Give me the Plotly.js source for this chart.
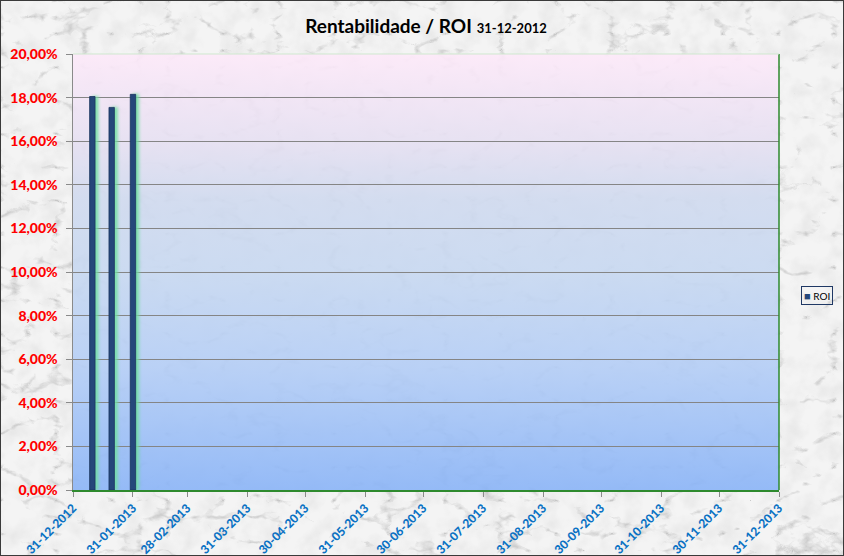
<!DOCTYPE html>
<html>
<head>
<meta charset="utf-8">
<script src="https://cdn.plot.ly/plotly-3.0.1.min.js"></script>
<style>
  html, body { margin:0; padding:0; width:844px; height:556px; overflow:hidden; }
  #wrap {
    position:relative; width:844px; height:556px; box-sizing:border-box;
    border:1px solid #3a3a3a;
    background-color:#f2f2f2;
    background-image:url("data:image/svg+xml;utf8,<svg xmlns='http://www.w3.org/2000/svg' width='844' height='556'><filter id='t'><feTurbulence type='turbulence' baseFrequency='0.018 0.03' numOctaves='4' seed='7'/><feColorMatrix type='matrix' values='0 0 0 0 0.42  0 0 0 0 0.42  0 0 0 0 0.42  -5 0 0 0 0.85'/></filter><filter id='s'><feTurbulence type='fractalNoise' baseFrequency='0.05' numOctaves='3' seed='2'/><feColorMatrix type='matrix' values='0 0 0 0 0.6  0 0 0 0 0.6  0 0 0 0 0.6  -1.5 0 0 0 0.9'/></filter><rect width='100%' height='100%' fill='%23f4f4f4'/><rect width='100%' height='100%' filter='url(%23s)' opacity='0.4'/><rect width='100%' height='100%' filter='url(%23t)' opacity='0.7'/></svg>");
  }
  #grad {
    position:absolute; left:72px; top:53px; width:706px; height:436px;
    background:linear-gradient(to bottom, #fde9f9 0%, #e6e0f2 20%, #d0daef 33%, #c7d8f1 50%, #b3cdf6 72%, #8ab4f7 100%);
    opacity:0.9;
  }
  #chart { position:absolute; left:0; top:0; width:844px; height:556px; }
  .barlayer path { filter: drop-shadow(3px 0px 1.5px rgba(110,225,160,0.85)); }
</style>
</head>
<body>
<div id="wrap">
  <div id="grad"></div>
  <div id="chart"></div>
</div>
<script>
// Data
const dates = ['2013-01-10', '2013-01-20', '2013-01-31'];
const roi = [0.1805, 0.1755, 0.1815];
const tickDates = ['2012-12-31','2013-01-31','2013-02-28','2013-03-31','2013-04-30','2013-05-31','2013-06-30','2013-07-31','2013-08-31','2013-09-30','2013-10-31','2013-11-30','2013-12-31'];
const tickLabels = ['31-12-2012','31-01-2013','28-02-2013','31-03-2013','30-04-2013','31-05-2013','30-06-2013','31-07-2013','31-08-2013','30-09-2013','31-10-2013','30-11-2013','31-12-2013'];
const seriesName = 'ROI';
const titleMain = 'Rentabilidade / ROI';
const titleDate = '31-12-2012';

const DAY = 86400000;
const FONT = 'Lato, "Open Sans", Arial, sans-serif';

const trace = {
  type: 'bar',
  x: dates,
  y: roi,
  name: seriesName,
  width: dates.map(() => 2.8 * DAY),
  marker: { color: '#25477a', line: { color: '#1b3560', width: 0.8 } },
  showlegend: false,
  hoverinfo: 'x+y'
};

const layout = {
  width: 844, height: 556,
  margin: { l: 72, r: 66, t: 53, b: 67, pad: 0, autoexpand: false },
  paper_bgcolor: 'rgba(0,0,0,0)',
  plot_bgcolor: 'rgba(0,0,0,0)',
  separators: ',.',
  font: { family: FONT },
  showlegend: false,
  title: {
    text: '<b>' + titleMain + '</b> <b><span style="font-size:13px">' + titleDate + '</span></b>',
    font: { size: 19, color: '#000000', family: FONT },
    x: 0.5, xanchor: 'center', xref: 'paper',
    y: 0.955, yanchor: 'middle', yref: 'container'
  },
  xaxis: {
    type: 'date',
    range: ['2012-12-31', '2013-12-31'],
    tickmode: 'array',
    tickvals: tickDates,
    ticktext: tickLabels,
    tickangle: -45,
    tickfont: { size: 12, color: '#0b72c4', family: FONT, weight: 900 },
    ticks: 'outside', ticklen: 5, tickcolor: '#8a8a8a',
    showgrid: false,
    showline: true, linecolor: '#2e8a2e', linewidth: 1.5,
    zeroline: false,
    fixedrange: true
  },
  yaxis: {
    range: [0, 0.2],
    dtick: 0.02,
    tick0: 0,
    tickformat: '.2%',
    tickfont: { size: 14, color: '#ff0000', family: FONT, weight: 900 },
    ticks: 'outside', ticklen: 6, tickcolor: '#8a8a8a',
    ticklabelstandoff: 5,
    showgrid: true, gridcolor: '#858585', gridwidth: 1,
    showline: true, linecolor: '#8a8a8a', linewidth: 1.5,
    zeroline: false,
    fixedrange: true
  },
  shapes: [
    { type: 'line', xref: 'paper', yref: 'paper', x0: 1, x1: 1, y0: 0, y1: 1,
      line: { color: '#2e8a2e', width: 1.5 }, layer: 'above' },
    { type: 'line', xref: 'paper', yref: 'paper', x0: 0, x1: 1, y0: 1, y1: 1,
      line: { color: '#cfe8cf', width: 1 }, layer: 'above' }
  ],
  annotations: [
    {
      xref: 'paper', yref: 'paper',
      x: 1.031, xanchor: 'left',
      y: 0.445, yanchor: 'middle',
      text: '<span style="color:#25477a;font-size:11px">■</span> ' + seriesName,
      showarrow: false,
      font: { size: 10, color: '#000000', family: FONT },
      bordercolor: '#1f3864', borderwidth: 1, borderpad: 2,
      bgcolor: 'rgba(0,0,0,0)'
    }
  ],
  bargap: 0
};

Plotly.newPlot('chart', [trace], layout, { displayModeBar: false, staticPlot: true });
</script>
</body>
</html>
